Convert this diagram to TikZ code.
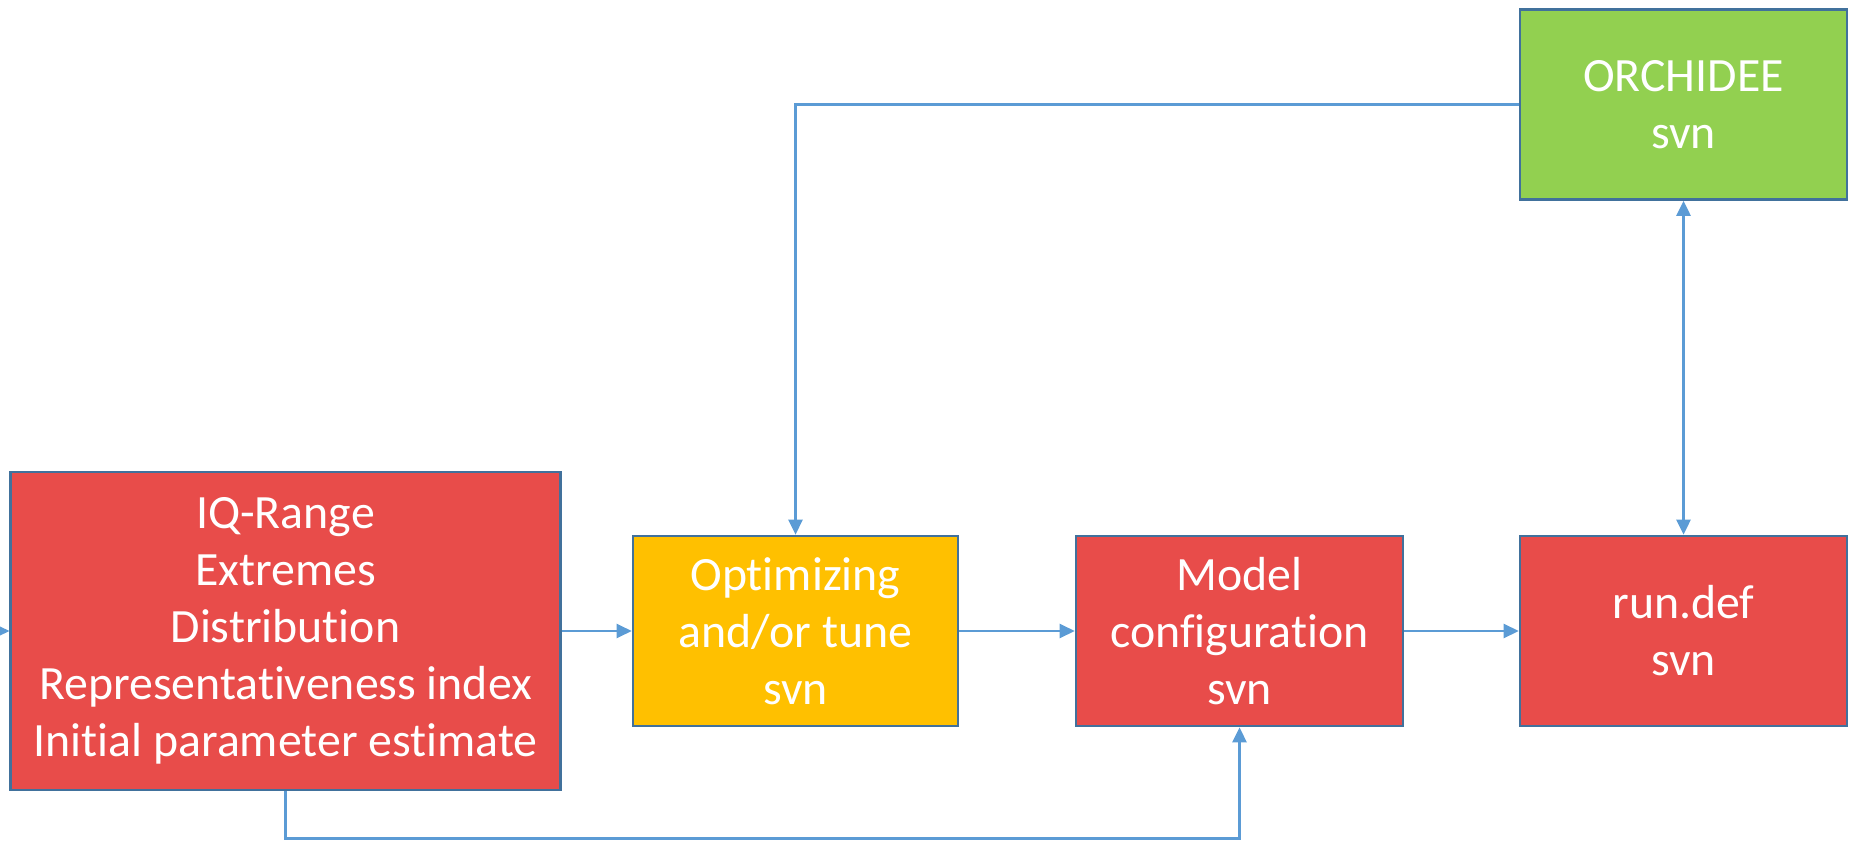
\documentclass[tikz,border=0pt]{standalone}
\usepackage{fontspec}
\setmainfont[Ligatures=NoCommon]{Carlito}
\usepackage{tikz}
\usetikzlibrary{arrows.meta}
\definecolor{boxred}{HTML}{E84C4A}
\definecolor{boxorange}{HTML}{FFC000}
\definecolor{boxgreen}{HTML}{92D050}
\definecolor{boxedge}{HTML}{41719C}
\definecolor{linkblue}{HTML}{5B9BD5}
\tikzstyle{block}=[draw=boxedge, line width=1.5pt, text=white, align=center, inner sep=0pt, minimum width=6.54cm, minimum height=3.8cm, font=\fontsize{27.2}{32.4}\selectfont]
\tikzstyle{link}=[draw=linkblue, line width=1.5pt, ->, >={Triangle[length=0.3cm,width=0.28cm]}]

\begin{document}
\begin{tikzpicture}
\useasboundingbox (0,0) rectangle (37.2,16.82);
\node[block, fill=boxred, minimum width=10.99cm, minimum height=6.36cm] (stats) at (5.71,4.2) {IQ-Range\\Extremes\\Distribution\\Representativeness index\\Initial parameter estimate};
\node[block, fill=boxorange, minimum width=6.5cm] (optim) at (15.91,4.2) {Optimizing\\and/or tune\\svn};
\node[block, fill=boxred] (model) at (24.79,4.2) {Model\\configuration\\svn};
\node[block, fill=boxred] (rundef) at (33.67,4.2) {run.def\\svn};
\node[block, fill=boxgreen] (orch) at (33.67,14.73) {ORCHIDEE\\svn};
\coordinate (in) at (0,4.2);
\draw[link] (in) -- (stats);
\foreach \a/\b in {stats/optim, optim/model, model/rundef} {
	\draw[link] (\a) -- (\b);
}
\draw[link] (orch.west) -| (optim.north);
\draw[link] (stats.south) -- ++(0,-0.94) -| (model.south);
\draw[link, <->] (orch) -- (rundef);
\end{tikzpicture}
\end{document}
